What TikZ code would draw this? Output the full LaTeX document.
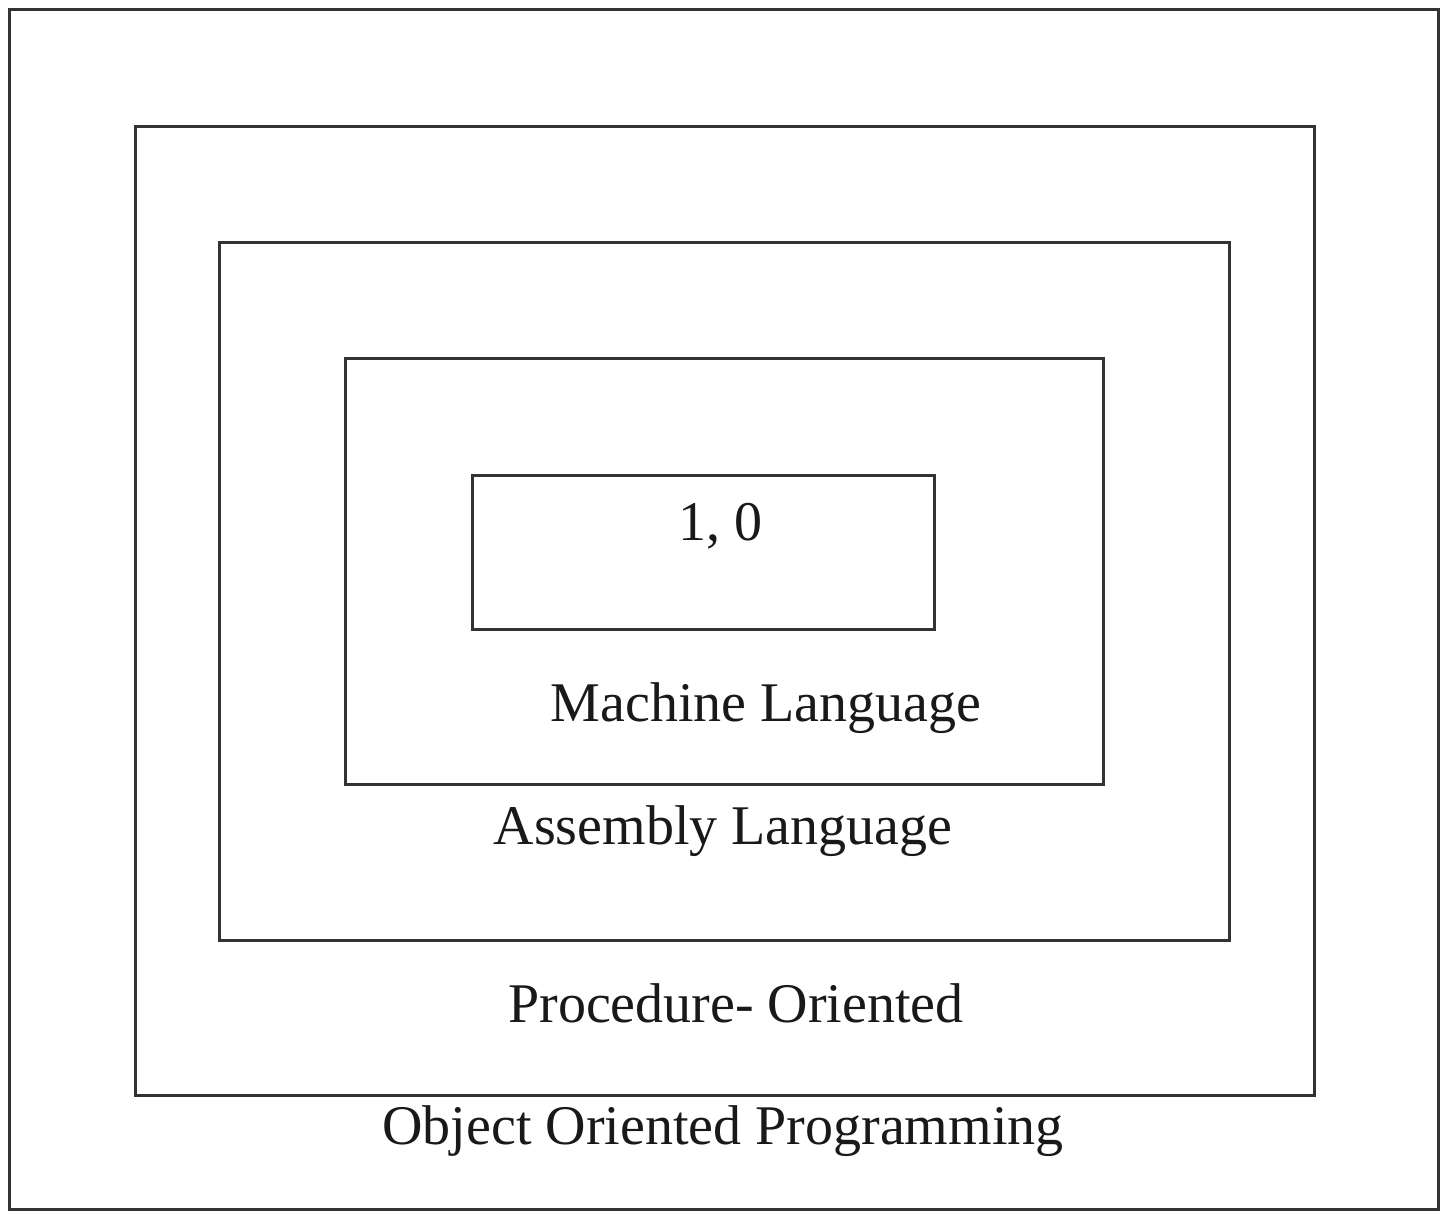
\documentclass[tikz,border=0pt]{standalone}
\usepackage{fontspec}
\setmainfont{Liberation Serif}
\tikzset{
  layer/.style = {draw=black!80, line width=1.5pt},
  lbl/.style = {anchor=base, inner sep=0pt, text=black!90,
    font=\fontsize{28}{34}\selectfont}}

\begin{document}
\begin{tikzpicture}[x=0.5pt, y=-0.5pt]
 \useasboundingbox (0,0) rectangle (1441,1211);

 % nested levels, outermost first
 \draw[layer] (9,9) rectangle (1438,1209);
 \draw[layer] (135,126) rectangle (1314,1095);
 \draw[layer] (219,242) rectangle (1229,940);
 \draw[layer] (345,358) rectangle (1103,784);
 \draw[layer] (472,475) rectangle (934,629);

 \node [lbl] (bits) at (720,540) {1, 0};
 \node [lbl] (machine) at (766,721) {Machine Language};
 \node [lbl] (assembly) at (723,844) {Assembly Language};
 \node [lbl] (proc) at (736,1022) {Procedure- Oriented};
 \node [lbl] (oop) at (723,1144) {Object Oriented Programming};
\end{tikzpicture}
\end{document}
